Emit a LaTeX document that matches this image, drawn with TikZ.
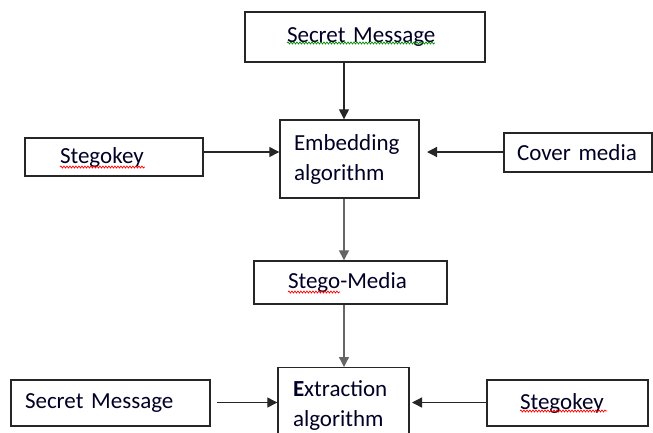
\documentclass[tikz,border=0pt]{standalone}
\usepackage{fontspec}
\setmainfont{Carlito}
\usetikzlibrary{arrows.meta,decorations.pathmorphing}
\begin{document}
\begin{tikzpicture}[x=1pt,y=-1pt,
  box/.style={draw=black!85,line width=1.4pt,fill=white,align=left,inner ysep=0pt,
    font=\fontsize{23}{30}\selectfont,text=black!85!blue},
  arr/.style={line width=1.3pt,draw=black!85,-{Triangle[length=10pt,width=10pt]}},
  spell/.style={decorate,decoration={snake,amplitude=1pt,segment length=3pt},line width=0.7pt}]
\useasboundingbox (0,0) rectangle (653,432);
\clip (0,0) rectangle (653,432);
% boxes
\node[box,minimum height=50pt,inner xsep=42pt,text width=156pt] (top) at (365,37) {Secret Message};
\node[box,minimum height=38pt,inner xsep=35pt,text width=108pt] (sk1) at (114,157) {Stegokey};
\node[box,minimum height=78pt,inner xsep=14pt,text width=111pt] (emb) at (349.5,159) {Embedding\\algorithm};
\node[box,minimum height=39pt,inner xsep=13pt,text width=122pt] (cov) at (578,152.5) {Cover media};
\node[box,minimum height=43pt,inner xsep=34pt,text width=125pt] (stg) at (350.5,282.5) {Stego-Media};
\node[box,minimum height=46pt,inner xsep=14pt,text width=171pt] (sm2) at (110.5,403) {Secret Message};
\node[box,minimum height=76pt,inner xsep=15pt,text width=101pt,anchor=north] (ext) at (343.5,367) {{\bfseries E}xtraction\\algorithm};
\node[box,minimum height=46pt,inner xsep=33pt,text width=95pt] (sk2) at (567.5,403) {Stegokey};
% helper coordinates
\coordinate (ay) at (0,152);
\coordinate (by) at (0,402.5);
\coordinate (vx) at (344,0);
\coordinate (gapR) at (427,152);
\coordinate (sm2s) at (217,402.5);
\coordinate (extR) at (412,402.5);
% connectors
\draw[arr] (top.south -| vx) -- (emb.north -| vx);
\draw[arr] (sk1.east |- ay) -- (emb.west |- ay);
\draw[arr] (cov.west |- ay) -- (gapR);
\draw[arr,draw=black!60] (emb.south -| vx) -- (stg.north -| vx);
\draw[arr,draw=black!60] (stg.south -| vx) -- (ext.north -| vx);
\draw[arr] (sm2s) -- (ext.west |- by);
\draw[arr] (sk2.west |- by) -- (extR);
% spell-check squiggles
\draw[spell,green!55!black] (287,43) -- (435,43);
\draw[spell,red] (60,167) -- (145,167);
\draw[spell,red] (288,292) -- (340,292);
\draw[spell,red] (520,411) -- (607,411);
\end{tikzpicture}
\end{document}
